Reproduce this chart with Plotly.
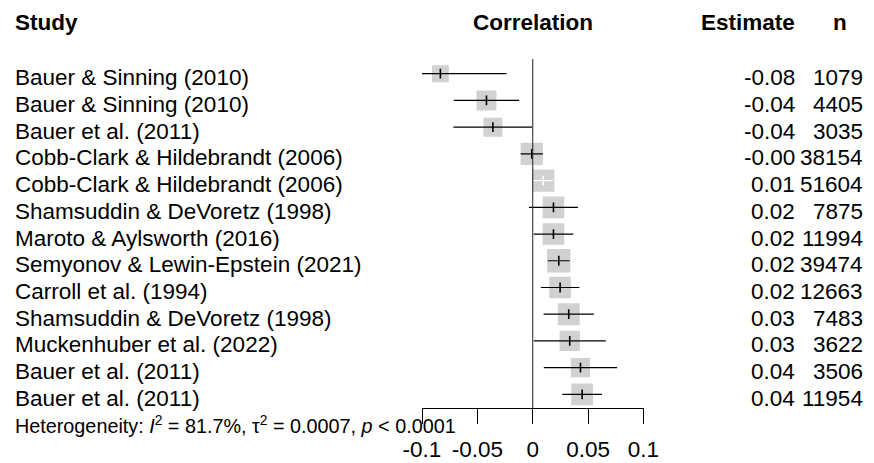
import plotly.graph_objects as go

# ---- data ----
studies = [
    "Bauer & Sinning (2010)", "Bauer & Sinning (2010)", "Bauer et al. (2011)",
    "Cobb-Clark & Hildebrandt (2006)", "Cobb-Clark & Hildebrandt (2006)",
    "Shamsuddin & DeVoretz (1998)", "Maroto & Aylsworth (2016)",
    "Semyonov & Lewin-Epstein (2021)", "Carroll et al. (1994)",
    "Shamsuddin & DeVoretz (1998)", "Muckenhuber et al. (2022)",
    "Bauer et al. (2011)", "Bauer et al. (2011)",
]
estimate = [-0.0834, -0.0418, -0.0360, -0.0009, 0.0094, 0.0187, 0.0187,
            0.0235, 0.0247, 0.0325, 0.0334, 0.0431, 0.0446]
ci_lower = [-0.1430, -0.0714, -0.0716, -0.0110, 0.0008, -0.0034, 0.0008,
            0.0136, 0.0073, 0.0098, 0.0008, 0.0100, 0.0267]
ci_upper = [-0.0237, -0.0123, -0.0004, 0.0092, 0.0180, 0.0408, 0.0366,
            0.0334, 0.0421, 0.0552, 0.0660, 0.0762, 0.0625]
n_obs = [1079, 4405, 3035, 38154, 51604, 7875, 11994, 39474, 12663, 7483,
         3622, 3506, 11954]
weight_pct = [5.0, 7.0, 6.3, 8.7, 8.7, 8.2, 8.2, 9.5, 8.2, 8.4, 7.2, 6.5, 8.2]
tick_vals = [-0.1, -0.05, 0, 0.05, 0.1]
tick_text = ["-0.1", "-0.05", "0", "0.05", "0.1"]
het_text = ("Heterogeneity: <i>I</i><sup>2</sup> = 81.7%, "
            "\u03c4<sup>2</sup> = 0.0007, <i>p</i> &lt; 0.0001")
headers = ["Study", "Correlation", "Estimate", "n"]

# ---- layout helpers (page pixel -> paper); page has an 8px body margin ----
OFF = 8
W, H = 874 - OFF, 463 - OFF
def px(x):
    return (x - OFF) / W
def py(y):
    return 1 - (y - OFF) / H

FONT = "Liberation Sans, Arial, sans-serif"
FS = 22.5
PX_PER_UNIT = (643.5 - 422) / 0.2
rows = list(range(1, len(studies) + 1))
max_w = max(weight_pct)
box_px = [23.3 * (w / max_w) ** 0.5 for w in weight_pct]

fig = go.Figure()

# squares
fig.add_trace(go.Scatter(
    x=estimate, y=rows, mode="markers",
    marker=dict(symbol="square", size=box_px, color="#bebebe",
                line=dict(width=0)),
    hoverinfo="skip", showlegend=False))

# CI lines: white when clearly inside the square
inside = []
for e, lo, hi, s in zip(estimate, ci_lower, ci_upper, box_px):
    left = (lo - e) * PX_PER_UNIT + s / 2
    right = s / 2 - (hi - e) * PX_PER_UNIT
    inside.append(left >= 1 and right >= 1)

for color, flag in (("black", False), ("white", True)):
    xs, ys = [], []
    for r, lo, hi, f in zip(rows, ci_lower, ci_upper, inside):
        if f == flag:
            xs += [lo, hi, None]
            ys += [r, r, None]
    fig.add_trace(go.Scatter(x=xs, y=ys, mode="lines",
                             line=dict(color=color, width=1.2),
                             hoverinfo="skip", showlegend=False))

# point-estimate ticks
fig.add_trace(go.Scatter(
    x=estimate, y=rows, mode="markers",
    marker=dict(symbol="line-ns", size=7,
                line=dict(width=1.6,
                          color=["white" if f else "black" for f in inside])),
    hoverinfo="skip", showlegend=False))

# reference line at 0
fig.add_shape(type="line", xref="x", yref="y domain", x0=0, x1=0, y0=0, y1=1,
              line=dict(color="#222222", width=1), layer="above")

ann = []
for r, s, e, n in zip(rows, studies, estimate, n_obs):
    for x, txt, anchor in ((13, s, "left"), (797, f"{e:.2f}", "right"),
                           (865, str(n), "right")):
        ann.append(dict(x=px(x), y=r, xref="paper", yref="y", text=txt,
                        xanchor=anchor, yanchor="middle", yshift=-4,
                        showarrow=False,
                        font=dict(size=FS, color="black", family=FONT)))

hdr_y = py(22)
ann.append(dict(x=px(13), y=hdr_y, xref="paper", yref="paper",
                text=f"<b>{headers[0]}</b>", xanchor="left", yanchor="middle",
                showarrow=False, font=dict(size=FS, color="black", family=FONT)))
ann.append(dict(x=0, y=hdr_y, xref="x", yref="paper",
                text=f"<b>{headers[1]}</b>", xanchor="center", yanchor="middle",
                showarrow=False, font=dict(size=FS, color="black", family=FONT)))
ann.append(dict(x=px(797), y=hdr_y, xref="paper", yref="paper",
                text=f"<b>{headers[2]}</b>", xanchor="right", yanchor="middle",
                showarrow=False, font=dict(size=FS, color="black", family=FONT)))
ann.append(dict(x=px(840), y=hdr_y, xref="paper", yref="paper",
                text=f"<b>{headers[3]}</b>", xanchor="center", yanchor="middle",
                showarrow=False, font=dict(size=FS, color="black", family=FONT)))
ann.append(dict(x=px(13), y=py(424), xref="paper", yref="paper",
                text=het_text, xanchor="left", yanchor="middle",
                showarrow=False, font=dict(size=19.8, color="black", family=FONT)))

fig.update_layout(
    width=W, height=H,
    margin=dict(l=0, r=0, t=0, b=0, autoexpand=False),
    paper_bgcolor="white", plot_bgcolor="white",
    showlegend=False,
    annotations=ann,
    xaxis=dict(domain=[px(422), px(643.5)], range=[-0.1, 0.1],
               tickmode="array", tickvals=tick_vals, ticktext=tick_text,
               ticks="outside", ticklen=15, tickwidth=1, tickcolor="black",
               ticklabelstandoff=6, automargin=False,
               showline=True, linecolor="black", linewidth=1,
               showgrid=False, zeroline=False,
               tickfont=dict(size=FS, color="black", family=FONT)),
    yaxis=dict(domain=[py(408), py(59)], range=[13.51, 0.45],
               visible=False, showgrid=False, zeroline=False),
)

fig.write_html("out.html")
